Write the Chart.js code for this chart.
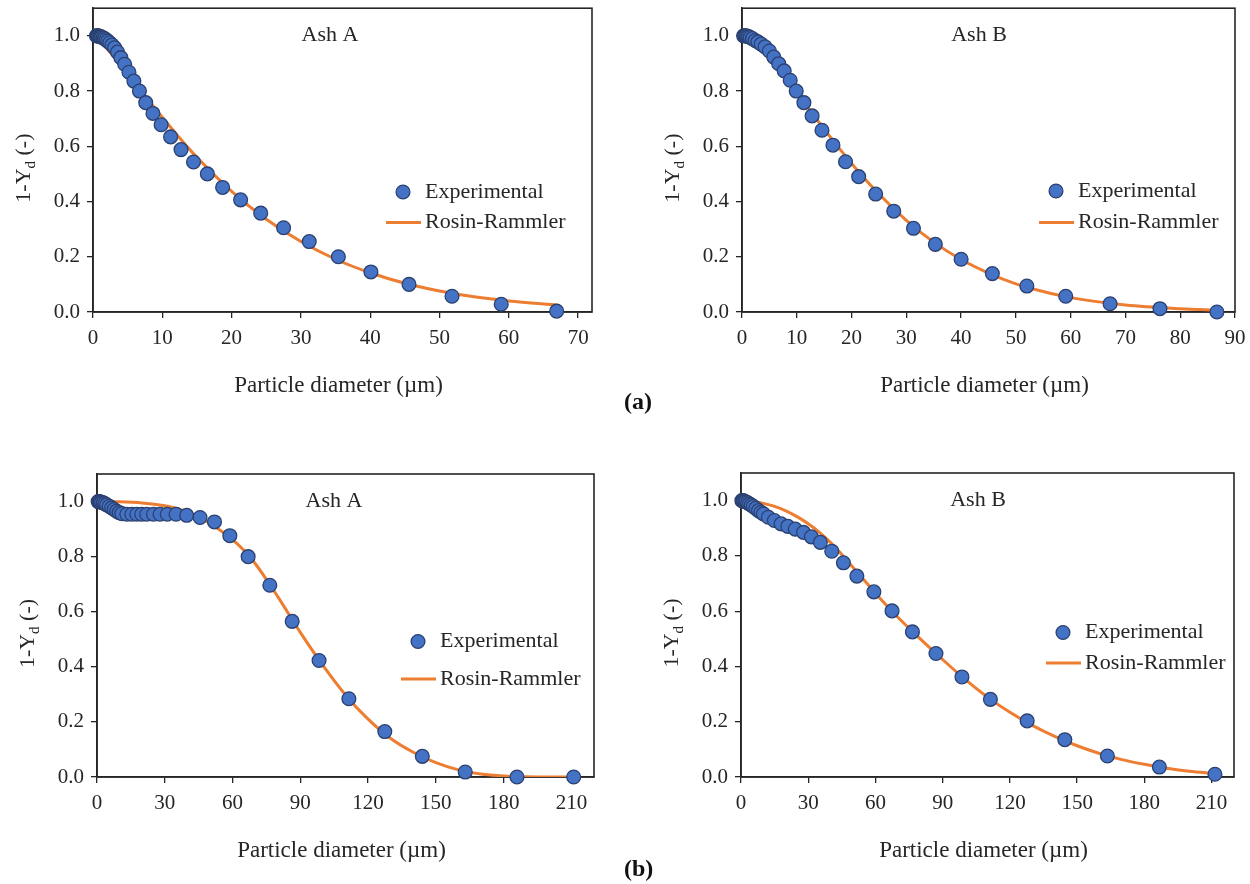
<!DOCTYPE html>
<html>
<head>
<meta charset="utf-8">
<script src="https://cdn.jsdelivr.net/npm/chart.js@4.4.0/dist/chart.umd.min.js"></script>
<style>
  body { margin: 0; background: #fff; }
  #wrap { position: relative; width: 1250px; height: 884px; overflow: hidden; background: #fff; }
  #wrap canvas { position: absolute; left: 0; top: 0; }
  .tag { position: absolute; font: bold 24px "Liberation Serif", serif; line-height: 1; color: #111; }
</style>
</head>
<body>
<div id="wrap">
  <canvas id="c1" width="1250" height="884"></canvas>
  <canvas id="c2" width="1250" height="884"></canvas>
  <canvas id="c3" width="1250" height="884"></canvas>
  <canvas id="c4" width="1250" height="884"></canvas>
  <div class="tag" style="left:624px; top:389px;">(a)</div>
  <div class="tag" style="left:624px; top:856px;">(b)</div>
</div>
<script>
const FONT = '"Liberation Serif", "DejaVu Serif", serif';
const BLUE = "#4472C4";
const EDGE = "#2B4170";
const ORANGE = "#ED7D31";
const INK = "#262626";

// (a) Ash A - experimental points
const expAaX = [0.5, 0.6, 0.7, 0.8, 0.95, 1.1, 1.25, 1.45, 1.65, 1.87, 2.12, 2.41, 2.74, 3.11, 3.54, 4.02, 4.57, 5.19, 5.9, 6.7, 7.61, 8.65, 9.83, 11.2, 12.7, 14.5, 16.5, 18.7, 21.3, 24.2, 27.5, 31.2, 35.4, 40.1, 45.6, 51.8, 58.9, 66.9];
const expAaY = [1.0, 1.0, 1.0, 0.999, 0.998, 0.997, 0.995, 0.993, 0.99, 0.986, 0.981, 0.975, 0.967, 0.957, 0.941, 0.921, 0.897, 0.868, 0.836, 0.80, 0.758, 0.719, 0.678, 0.634, 0.588, 0.543, 0.50, 0.451, 0.406, 0.358, 0.305, 0.255, 0.20, 0.145, 0.10, 0.057, 0.028, 0.003];
// (a) Ash A - Rosin-Rammler curve
const rrAaX = [0, 1, 2, 3, 4, 5, 6, 8, 10, 12, 15, 20, 25, 30, 35, 40, 45, 50, 55, 60, 67];
const rrAaY = [1.0, 0.98, 0.954, 0.924, 0.894, 0.862, 0.83, 0.767, 0.705, 0.645, 0.56, 0.437, 0.336, 0.255, 0.191, 0.142, 0.104, 0.076, 0.055, 0.04, 0.025];

// (a) Ash B
const expBaX = [0.3, 0.5, 0.7, 0.9, 1.2, 1.5, 1.9, 2.4, 2.9, 3.5, 4.2, 5.0, 5.8, 6.7, 7.7, 8.8, 9.9, 11.3, 12.8, 14.6, 16.6, 18.9, 21.3, 24.4, 27.7, 31.3, 35.3, 40.0, 45.7, 52.0, 59.1, 67.2, 76.3, 86.7];
const expBaY = [1.0, 1.0, 1.0, 0.999, 0.997, 0.994, 0.99, 0.983, 0.978, 0.97, 0.96, 0.945, 0.923, 0.899, 0.873, 0.839, 0.80, 0.758, 0.71, 0.658, 0.604, 0.544, 0.49, 0.427, 0.365, 0.303, 0.245, 0.191, 0.139, 0.094, 0.057, 0.030, 0.012, 0.0];
const rrBaX = [0, 2, 4, 6, 8, 10, 12, 15, 20, 25, 30, 35, 40, 45, 50, 55, 60, 70, 80, 87];
const rrBaY = [1.0, 0.977, 0.939, 0.894, 0.845, 0.793, 0.741, 0.662, 0.538, 0.427, 0.332, 0.253, 0.19, 0.141, 0.102, 0.074, 0.052, 0.025, 0.012, 0.007];

// (b) Ash A
const expAbX = [0.5, 0.9, 1.4, 2.0, 2.8, 3.5, 4.3, 5.4, 6.5, 7.6, 8.7, 9.8, 11.0, 13.2, 15.4, 17.6, 19.8, 22.0, 25.0, 27.9, 31.1, 35.0, 39.7, 45.6, 52.0, 58.8, 66.9, 76.5, 86.4, 98.3, 111.5, 127.4, 144.0, 163.0, 185.9, 211.0];
const expAbY = [1.0, 1.0, 0.999, 0.997, 0.995, 0.992, 0.988, 0.983, 0.977, 0.971, 0.965, 0.96, 0.956, 0.954, 0.954, 0.954, 0.954, 0.954, 0.954, 0.954, 0.954, 0.954, 0.95, 0.942, 0.926, 0.876, 0.80, 0.696, 0.565, 0.423, 0.284, 0.165, 0.075, 0.018, 0.0, 0.0];
const rrAbX = [0, 10, 20, 30, 35, 40, 45, 50, 55, 60, 65, 70, 80, 90, 100, 110, 120, 130, 140, 150, 160, 170, 180, 190, 200, 211];
const rrAbY = [1.0, 0.999, 0.995, 0.985, 0.976, 0.962, 0.944, 0.92, 0.893, 0.862, 0.823, 0.775, 0.655, 0.525, 0.405, 0.298, 0.21, 0.14, 0.09, 0.052, 0.026, 0.011, 0.004, 0.001, 0.0, 0.0];

// (b) Ash B
const expBbX = [0.4, 0.8, 1.2, 1.7, 2.3, 3.0, 3.8, 4.6, 5.5, 6.6, 7.8, 8.9, 10.0, 12.2, 14.9, 17.9, 20.9, 24.2, 27.9, 31.4, 35.4, 40.5, 45.7, 51.7, 59.3, 67.4, 76.5, 87.0, 98.6, 111.3, 127.7, 144.5, 163.5, 186.7, 211.5];
const expBbY = [1.0, 1.0, 0.999, 0.997, 0.995, 0.992, 0.988, 0.984, 0.979, 0.972, 0.964, 0.958, 0.952, 0.94, 0.928, 0.916, 0.907, 0.897, 0.885, 0.869, 0.849, 0.817, 0.775, 0.727, 0.67, 0.601, 0.525, 0.447, 0.362, 0.281, 0.203, 0.135, 0.076, 0.036, 0.01];
const rrBbX = [0, 5, 10, 15, 20, 25, 30, 35, 40, 45, 50, 55, 60, 70, 80, 90, 100, 110, 120, 130, 140, 150, 160, 170, 180, 190, 200, 211];
const rrBbY = [1.0, 0.997, 0.99, 0.979, 0.963, 0.942, 0.916, 0.885, 0.848, 0.805, 0.758, 0.712, 0.665, 0.578, 0.50, 0.425, 0.353, 0.289, 0.234, 0.187, 0.147, 0.113, 0.085, 0.063, 0.046, 0.032, 0.021, 0.013];

const yTicks = [0, 0.2, 0.4, 0.6, 0.8, 1.0];

const W = 1250, H = 884;
const R = 6.9;

function pairs(xs, ys) {
  return xs.map((x, i) => ({ x: x, y: ys[i] }));
}

// frame, titles and legend drawn around the plot area
function decorFor(p) {
  return {
    id: "decor",
    beforeDatasetsDraw(chart) {
      const a = chart.chartArea, ctx = chart.ctx;
      ctx.save();
      ctx.strokeStyle = INK;
      ctx.lineWidth = 1.6;
      ctx.strokeRect(a.left, a.top, a.right - a.left, a.bottom - a.top);
      ctx.restore();
    },
    afterDraw(chart) {
      const a = chart.chartArea, ctx = chart.ctx;
      ctx.save();
      ctx.fillStyle = INK;
      ctx.textBaseline = "middle";
      ctx.textAlign = "center";

      ctx.font = "22px " + FONT;
      ctx.fillText(p.title, a.left + 237, a.top + 27);

      ctx.font = "23px " + FONT;
      ctx.fillText("Particle diameter (\u00b5m)", (a.left + a.right) / 2 - 4, a.bottom + 74);

      // y title with subscript d
      ctx.save();
      ctx.translate(a.left - 70, (a.top + a.bottom) / 2 + 8);
      ctx.rotate(-Math.PI / 2);
      const big = "22px " + FONT, small = "15px " + FONT;
      ctx.font = big;
      const w1 = ctx.measureText("1-Y").width;
      const w3 = ctx.measureText(" (-)").width;
      ctx.font = small;
      const w2 = ctx.measureText("d").width;
      const x0 = -(w1 + w2 + w3) / 2;
      ctx.textAlign = "left";
      ctx.textBaseline = "alphabetic";
      ctx.font = big;
      ctx.fillText("1-Y", x0, 7);
      ctx.font = small;
      ctx.fillText("d", x0 + w1, 12);
      ctx.font = big;
      ctx.fillText(" (-)", x0 + w1 + w2, 7);
      ctx.restore();

      // legend
      const lx = a.left + p.legX;
      ctx.beginPath();
      ctx.arc(lx, p.legY1, R, 0, Math.PI * 2);
      ctx.fillStyle = BLUE;
      ctx.fill();
      ctx.strokeStyle = EDGE;
      ctx.lineWidth = 1.3;
      ctx.stroke();
      ctx.beginPath();
      ctx.moveTo(lx - 17, p.legY2);
      ctx.lineTo(lx + 18, p.legY2);
      ctx.strokeStyle = ORANGE;
      ctx.lineWidth = 3;
      ctx.stroke();
      ctx.fillStyle = INK;
      ctx.font = "22px " + FONT;
      ctx.textAlign = "left";
      ctx.textBaseline = "middle";
      ctx.fillText("Experimental", lx + 22, p.legY1);
      ctx.fillText("Rosin-Rammler", lx + 22, p.legY2);
      ctx.restore();
    },
  };
}

function makeChart(id, p) {
  return new Chart(document.getElementById(id), {
    type: "line",
    data: {
      datasets: [
        {
          label: "Experimental",
          data: pairs(p.expX, p.expY),
          showLine: false,
          pointRadius: R,
          pointBackgroundColor: BLUE,
          pointBorderColor: EDGE,
          pointBorderWidth: 1.3,
          order: 0,
          clip: false,
        },
        {
          label: "Rosin-Rammler",
          data: pairs(p.rrX, p.rrY),
          borderColor: ORANGE,
          borderWidth: 3,
          pointRadius: 0,
          cubicInterpolationMode: "monotone",
          fill: false,
          order: 1,
        },
      ],
    },
    options: {
      responsive: false,
      animation: false,
      events: [],
      layout: { padding: { top: p.top, right: W - p.right, left: 0, bottom: 0 } },
      plugins: { legend: { display: false }, tooltip: { enabled: false } },
      scales: {
        x: {
          type: "linear",
          min: 0,
          max: p.xMax,
          ticks: {
            stepSize: p.xStep,
            includeBounds: false,
            maxRotation: 0,
            padding: 8,
            color: INK,
            font: { family: FONT, size: 21 },
          },
          grid: { drawOnChartArea: false, drawTicks: true, tickLength: 6, color: INK, lineWidth: 1.3 },
          border: { display: true, color: INK, width: 1.6 },
          afterFit(s) {
            s.height = H - p.bottom;
            s.paddingLeft = 0;
            s.paddingRight = 0;
          },
        },
        y: {
          type: "linear",
          min: 0,
          max: 1.1,
          afterBuildTicks(s) {
            s.ticks = yTicks.map((v) => ({ value: v }));
          },
          ticks: {
            padding: 7,
            color: INK,
            font: { family: FONT, size: 21 },
            callback: (v) => Number(v).toFixed(1),
          },
          grid: { drawOnChartArea: false, drawTicks: true, tickLength: 6, color: INK, lineWidth: 1.3 },
          border: { display: true, color: INK, width: 1.6 },
          afterFit(s) {
            s.width = p.left;
            s.paddingTop = 0;
            s.paddingBottom = 0;
          },
        },
      },
    },
    plugins: [decorFor(p)],
  });
}

makeChart("c1", {
  left: 93, top: 7, right: 592, bottom: 312, xMax: 72, xStep: 10, title: "Ash A",
  legX: 310, legY1: 192, legY2: 222.5,
  expX: expAaX, expY: expAaY, rrX: rrAaX, rrY: rrAaY,
});
makeChart("c2", {
  left: 742, top: 7, right: 1235, bottom: 312, xMax: 90, xStep: 10, title: "Ash B",
  legX: 314, legY1: 191, legY2: 222.5,
  expX: expBaX, expY: expBaY, rrX: rrBaX, rrY: rrBaY,
});
makeChart("c3", {
  left: 97, top: 474, right: 594, bottom: 777, xMax: 220, xStep: 30, title: "Ash A",
  legX: 321, legY1: 641.5, legY2: 679,
  expX: expAbX, expY: expAbY, rrX: rrAbX, rrY: rrAbY,
});
makeChart("c4", {
  left: 741, top: 473, right: 1234, bottom: 777, xMax: 220, xStep: 30, title: "Ash B",
  legX: 322, legY1: 632.5, legY2: 663,
  expX: expBbX, expY: expBbY, rrX: rrBbX, rrY: rrBbY,
});
</script>
</body>
</html>
